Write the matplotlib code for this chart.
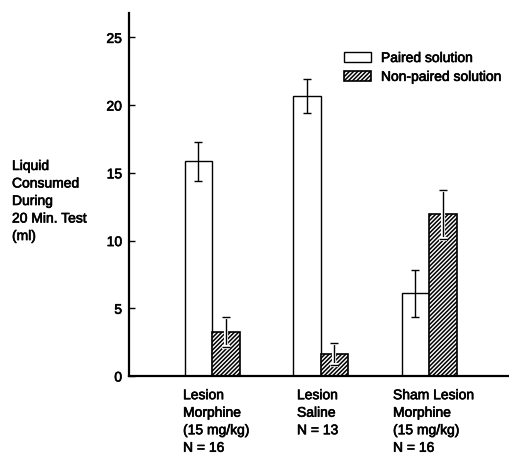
import matplotlib
matplotlib.use("Agg")
import matplotlib.pyplot as plt
import matplotlib.patheffects as pe
from matplotlib.patches import Patch
import numpy as np

plt.rcParams['font.family'] = ['Liberation Sans', 'DejaVu Sans']
plt.rcParams['hatch.linewidth'] = 1.1

# mean liquid consumed (ml) and error
groups = ["Lesion\nMorphine\n(15 mg/kg)\nN = 16",
          "Lesion\nSaline\nN = 13",
          "Sham Lesion\nMorphine\n(15 mg/kg)\nN = 16"]
paired = [15.85, 20.7, 6.1]
paired_err = [1.45, 1.25, 1.75]
nonpaired = [3.25, 1.6, 11.95]
nonpaired_err = [1.1, 0.8, 1.8]
yticks = [0, 5, 10, 15, 20, 25]

HATCH = '////////'
bold_ink = [pe.Stroke(linewidth=0.45, foreground='black'), pe.Normal()]

fig = plt.figure(figsize=(5.09, 4.56), dpi=100)
ax = fig.add_axes([129 / 509, 79 / 456, 380 / 509, 363 / 456])

x = np.arange(len(groups))
w = 0.2535

ax.bar(x - w / 2, paired, w, color='white', edgecolor='black', linewidth=1.0,
       label='Paired solution', zorder=2)
ax.bar(x + w / 2, nonpaired, w, color='white', edgecolor='black', linewidth=1.2,
       hatch=HATCH, label='Non-paired solution', zorder=2)

ax.errorbar(x - w / 2, paired, yerr=paired_err, fmt='none', ecolor='black',
            elinewidth=1.0, capsize=3, capthick=1.0, zorder=3)
eb = ax.errorbar(x + w / 2, nonpaired, yerr=nonpaired_err, fmt='none', ecolor='black',
                 elinewidth=1.0, capsize=3, capthick=1.0, zorder=3)
# white halo so the bar shows up against the hatching
for art in eb.lines[1] + eb.lines[2]:
    art.set_path_effects([pe.Stroke(linewidth=3, foreground='white'), pe.Normal()])

ax.set_xlim(-0.765, 2.737)
ax.set_ylim(0, 26.8)
ax.set_yticks(yticks)
ax.set_xticks([])
ax.tick_params(axis='y', direction='in', length=4, width=1.0, labelsize=10, pad=5)
for t in ax.get_yticklabels():
    t.set_path_effects(bold_ink)

for s in ['top', 'right']:
    ax.spines[s].set_visible(False)
for s in ['left', 'bottom']:
    ax.spines[s].set_linewidth(1.6)

# group labels under the bars
label_dx = [-0.267, -0.217, -0.332]
for xi, dx, g in zip(x, label_dx, groups):
    ax.text(xi + dx, -0.9, g, ha='left', va='top', fontsize=10,
            linespacing=1.32, clip_on=False, path_effects=bold_ink)

fig.text(12 / 509, 1 - 202 / 456, "Liquid\nConsumed\nDuring\n20 Min. Test\n(ml)",
         ha='left', va='center', fontsize=10, linespacing=1.32, path_effects=bold_ink)

handles = [Patch(facecolor='white', edgecolor='black', linewidth=1.0),
           Patch(facecolor='white', edgecolor='black', linewidth=1.2, hatch=HATCH)]
leg = ax.legend(handles, ['Paired solution', 'Non-paired solution'], frameon=False,
                loc='upper left', bbox_to_anchor=(344 / 509, 1 - 52 / 456),
                bbox_transform=fig.transFigure, borderpad=0, borderaxespad=0,
                handlelength=1.94, handleheight=0.65, handletextpad=0.72,
                labelspacing=0.35, fontsize=10)
for t in leg.get_texts():
    t.set_path_effects(bold_ink)

fig.savefig("out.png", dpi=100)
